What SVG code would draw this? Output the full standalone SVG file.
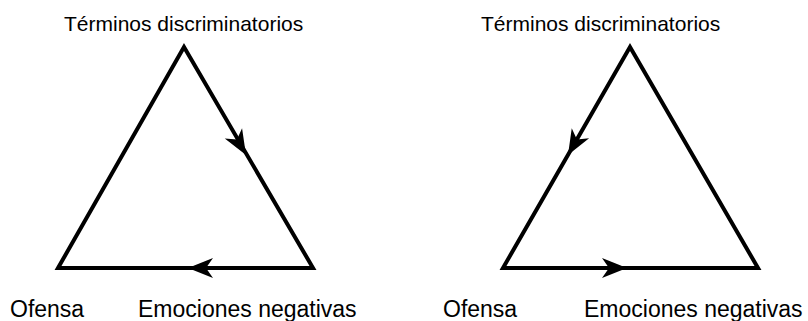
<svg xmlns="http://www.w3.org/2000/svg" width="808" height="321" viewBox="0 0 808 321">
<style>
.lbl{font-family:"Liberation Sans",Arial,sans-serif;font-size:21px;fill:#000}
.bot{font-size:23px}
.edge{fill:none;stroke:#000;stroke-width:4;stroke-linejoin:miter;stroke-miterlimit:10}
.head{fill:#000;stroke:none}
</style>
<defs>
<path id="ah" d="M0,0 L-25,-10 L-18,0 L-25,10 Z"/>
</defs>
<rect width="808" height="321" fill="#fff"/>
<g id="connectors">
<path class="edge" d="M184,47 L313,268 L58,268 Z"/>
<path class="edge" d="M630,47 L758,268 L503,268 Z"/>
<use href="#ah" class="head" transform="translate(246,155) rotate(59.8)"/>
<use href="#ah" class="head" transform="translate(188,268) rotate(180)"/>
<use href="#ah" class="head" transform="translate(568,155) rotate(119.8)"/>
<use href="#ah" class="head" transform="translate(627,268)"/>
</g>
<g id="left-top"><text class="lbl" x="64" y="31">Términos discriminatorios</text></g>
<g id="left-ofensa"><text class="lbl bot" x="10" y="317">Ofensa</text></g>
<g id="left-emociones"><text class="lbl bot" x="138" y="317">Emociones negativas</text></g>
<g id="right-top"><text class="lbl" x="481" y="31">Términos discriminatorios</text></g>
<g id="right-ofensa"><text class="lbl bot" x="443" y="317">Ofensa</text></g>
<g id="right-emociones"><text class="lbl bot" x="584" y="317">Emociones negativas</text></g>
</svg>
